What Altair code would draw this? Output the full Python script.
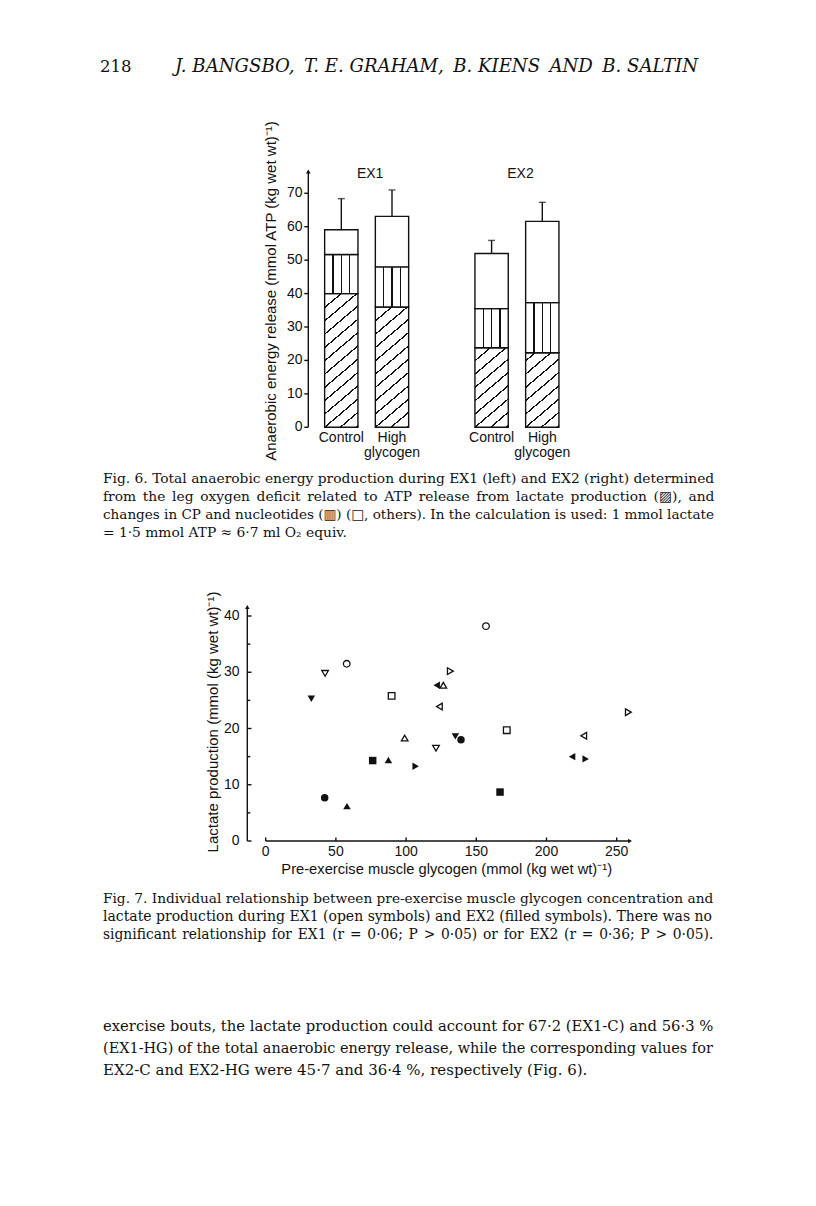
import altair as alt
import pandas as pd

# ---------------- Fig. 6 data (mmol ATP (kg wet wt)^-1) ----------------
exercises = ["EX1", "EX1", "EX2", "EX2"]
conditions = ["Control", "High glycogen", "Control", "High glycogen"]
lactate_atp = [40.0, 36.0, 23.8, 22.3]
cp_nucleotides = [11.7, 12.0, 11.7, 15.0]
others_atp = [7.4, 15.1, 16.5, 24.3]
sd_total = [9.3, 7.9, 3.9, 5.7]
fig6_ticks = [0, 10, 20, 30, 40, 50, 60, 70]

# ---------------- Fig. 7 data ----------------
subjects = ["A", "B", "C", "D", "E", "F"]
subject_shapes = ["circle", "triangle-down", "triangle-right", "triangle-up", "triangle-left", "square"]
ex1_subject = ["A", "A", "B", "B", "C", "C", "D", "D", "E", "E", "F", "F"]
ex1_glycogen = [57.7, 156.9, 42.3, 121.3, 131.5, 258.3, 126.5, 99.0, 123.7, 226.5, 89.7, 171.7]
ex1_lactate = [31.5, 38.2, 29.8, 16.5, 30.2, 22.9, 27.7, 18.3, 23.9, 18.7, 25.8, 19.7]
ex2_subject = ["A", "A", "B", "B", "C", "C", "D", "D", "E", "E", "F", "F"]
ex2_glycogen = [139.1, 42.0, 32.5, 135.1, 106.8, 227.9, 87.4, 57.9, 121.8, 218.2, 76.2, 166.9]
ex2_lactate = [18.0, 7.7, 25.3, 18.6, 13.3, 14.6, 14.4, 6.2, 27.7, 15.0, 14.3, 8.7]
fig7_y_major = [0, 10, 20, 30, 40]
fig7_y_minor = [5, 15, 25, 35]
fig7_x_ticks = [0, 50, 100, 150, 200, 250]

# ---------------- text ----------------
header_page = "218"
header_authors = "J. BANGSBO,\u2009 T. E. GRAHAM,\u2009 B. KIENS\u2009 AND\u2009 B. SALTIN"
fig6_caption = [
    "Fig. 6. Total anaerobic energy production during EX1 (left) and EX2 (right) determined",
    "from the leg oxygen deficit related to ATP release from lactate production (\u25a8\ufe0e), and",
    "changes in CP and nucleotides (\u25a5\ufe0e) (\u25a1, others). In the calculation is used: 1 mmol lactate",
    "= 1\u00b75 mmol ATP \u2248 6\u00b77 ml O\u2082 equiv.",
]
fig7_caption = [
    "Fig. 7. Individual relationship between pre-exercise muscle glycogen concentration and",
    "lactate production during EX1 (open symbols) and EX2 (filled symbols). There was no",
    "significant relationship for EX1 (r = 0\u00b706; P > 0\u00b705) or for EX2 (r = 0\u00b736; P > 0\u00b705).",
]
body_text = [
    "exercise bouts, the lactate production could account for 67\u00b72 (EX1-C) and 56\u00b73 %",
    "(EX1-HG) of the total anaerobic energy release, while the corresponding values for",
    "EX2-C and EX2-HG were 45\u00b77 and 36\u00b74 %, respectively (Fig. 6).",
]
# typesetting of each printed line (size, extra inter-word space) so justified lines fill the block
fig6_caption_sizes = [13.8, 13.8, 13.55, 13.8]
fig6_caption_gaps = ["", "\u2006", "", ""]
fig7_caption_sizes = [13.7, 14.0, 13.84]
fig7_caption_gaps = ["", "", "\u200a"]
body_sizes = [14.8, 14.45, 15.0]
body_gaps = ["", "", ""]

SANS = "Liberation Sans"
SERIF = "DejaVu Serif, DejaVu Sans"
BLACK = "#111111"

# ---------------- Fig. 6 ----------------
df6 = pd.DataFrame({
    "exercise": exercises, "condition": conditions,
    "lac": lactate_atp, "cp": cp_nucleotides, "oth": others_atp, "sd": sd_total,
})
df6["zero"] = 0.0
df6["lac_top"] = df6["lac"]
df6["cp_top"] = df6["lac"] + df6["cp"]
df6["total"] = df6["cp_top"] + df6["oth"]
df6["err"] = df6["total"] + df6["sd"]

PX6 = 3.343
Y6S = alt.Scale(domain=[0, 80], range=[419.3, 419.3 - 80 * PX6], nice=False, zero=False)
X6S = alt.Scale(domain=["EX1", "EX2"], range=[283.5, 584.1], paddingInner=0, paddingOuter=0)
XO6S = alt.Scale(domain=["Control", "High glycogen"], paddingInner=0.343, paddingOuter=0.654)
X6 = alt.X("exercise:N", scale=X6S, axis=None)
XO6 = alt.XOffset("condition:N", scale=XO6S)
BAR_W = 50.7 * (1 - 0.343)


def diag_gradient(value, slope=0.85, gap=13.3, half=0.85):
    h = value * PX6
    w = BAR_W
    U = slope * w + h
    k = U / (slope ** 2 * w ** 2 + h ** 2)
    centers = []
    u = h
    while u > 0:
        centers.append(u)
        u -= gap
    u = h + gap
    while u < U:
        centers.append(u)
        u += gap
    centers.sort()
    stops = [{"offset": 0, "color": "white"}]
    for c in centers:
        a = max(0.0, (c - half) / U)
        b = min(1.0, (c + half) / U)
        stops += [{"offset": a, "color": "white"}, {"offset": a, "color": BLACK},
                  {"offset": b, "color": BLACK}, {"offset": b, "color": "white"}]
    stops.append({"offset": 1, "color": "white"})
    return {"gradient": "linear", "x1": 0, "y1": 0, "x2": slope * w * k, "y2": h * k, "stops": stops}


def vert_gradient(half=0.02):
    stops = [{"offset": 0, "color": "white"}]
    for c in (0.25, 0.5, 0.75):
        stops += [{"offset": c - half, "color": "white"}, {"offset": c - half, "color": BLACK},
                  {"offset": c + half, "color": BLACK}, {"offset": c + half, "color": "white"}]
    stops.append({"offset": 1, "color": "white"})
    return {"gradient": "linear", "x1": 0, "y1": 0, "x2": 1, "y2": 0, "stops": stops}


base6 = alt.Chart(df6)
layers6 = []
for e, c, v in zip(exercises, conditions, lactate_atp):
    layers6.append(
        base6.transform_filter(f"datum.exercise == '{e}' && datum.condition == '{c}'")
        .mark_bar(fill=diag_gradient(v), stroke=BLACK, strokeWidth=1.4)
        .encode(x=X6, xOffset=XO6, y=alt.Y("lac_top:Q", scale=Y6S, axis=None), y2="zero:Q")
    )
layers6.append(
    base6.mark_bar(fill=vert_gradient(), stroke=BLACK, strokeWidth=1.4)
    .encode(x=X6, xOffset=XO6, y=alt.Y("cp_top:Q", scale=Y6S, axis=None), y2="lac_top:Q")
)
layers6.append(
    base6.mark_bar(fill="white", stroke=BLACK, strokeWidth=1.4)
    .encode(x=X6, xOffset=XO6, y=alt.Y("total:Q", scale=Y6S, axis=None), y2="cp_top:Q")
)
layers6.append(
    base6.mark_rule(color=BLACK, strokeWidth=1.4)
    .encode(x=X6, xOffset=XO6, y=alt.Y("total:Q", scale=Y6S, axis=None), y2="err:Q")
)
layers6.append(
    base6.mark_tick(color=BLACK, thickness=1.4, size=7, orient="horizontal")
    .encode(x=X6, xOffset=XO6, y=alt.Y("err:Q", scale=Y6S, axis=None))
)
# y axis (drawn from the y scale)
one = pd.DataFrame({"k": [0]})
ticks6 = pd.DataFrame({"v": fig6_ticks})
layers6.append(
    alt.Chart(one).mark_rule(color=BLACK, strokeWidth=1.4)
    .encode(x=alt.value(300.3), y=alt.YDatum(0, scale=Y6S, axis=None), y2=alt.Y2Datum(76.5))
)
layers6.append(
    alt.Chart(one).mark_point(shape="triangle-up", filled=True, color=BLACK, size=22, opacity=1)
    .encode(x=alt.value(300.3), y=alt.YDatum(76.5, scale=Y6S, axis=None))
)
layers6.append(
    alt.Chart(ticks6).mark_rule(color=BLACK, strokeWidth=1.4)
    .encode(y=alt.Y("v:Q", scale=Y6S, axis=None), x=alt.value(296.3), x2=alt.value(300.3))
)
layers6.append(
    alt.Chart(ticks6).mark_text(align="right", baseline="middle", font=SANS, fontSize=14, color=BLACK)
    .encode(y=alt.Y("v:Q", scale=Y6S, axis=None), x=alt.value(294.5), text="v:Q")
)
layers6.append(
    alt.Chart(one).mark_text(angle=270, align="center", baseline="middle", font=SANS, fontSize=15,
                             color=BLACK, text="Anaerobic energy release (mmol ATP (kg wet wt)\u207b\u00b9)")
    .encode(x=alt.value(262.7), y=alt.value(283))
)
layers6.append(
    base6.mark_text(align="center", baseline="top", lineBreak=" ", lineHeight=15, font=SANS,
                    fontSize=14, color=BLACK)
    .encode(x=alt.X("exercise:N", scale=X6S, axis=None, bandPosition=0.5), xOffset=XO6,
            y=alt.value(423), text="condition:N")
)
layers6.append(
    alt.Chart(pd.DataFrame({"exercise": ["EX1", "EX2"]}))
    .mark_text(align="center", baseline="middle", font=SANS, fontSize=14, color=BLACK, dx=3.5)
    .encode(x=alt.X("exercise:N", scale=X6S, axis=None, bandPosition=0.5), y=alt.value(166),
            text="exercise:N")
)
fig6 = alt.layer(*layers6)

# ---------------- Fig. 7 ----------------
df7 = pd.DataFrame({
    "glycogen": ex1_glycogen + ex2_glycogen,
    "lactate": ex1_lactate + ex2_lactate,
    "subject": ex1_subject + ex2_subject,
    "exercise": ["EX1"] * len(ex1_glycogen) + ["EX2"] * len(ex2_glycogen),
})
X7S = alt.Scale(domain=[0, 260], range=[257.7, 257.7 + 260 * 1.404], nice=False, zero=False)
Y7S = alt.Scale(domain=[0, 42], range=[833, 833 - 42 * 5.625], nice=False, zero=False)
SH = alt.Shape("subject:N", scale=alt.Scale(domain=subjects, range=subject_shapes), legend=None)
X7 = alt.X("glycogen:Q", scale=X7S, axis=None)
Y7 = alt.Y("lactate:Q", scale=Y7S, axis=None)

layers7 = [
    alt.Chart(df7).transform_filter("datum.exercise == 'EX2'")
    .mark_point(filled=True, color=BLACK, size=56, opacity=1)
    .encode(x=X7, y=Y7, shape=SH),
    alt.Chart(df7).transform_filter("datum.exercise == 'EX1'")
    .mark_point(filled=True, fill="white", stroke=BLACK, strokeWidth=1.3, size=44, opacity=1)
    .encode(x=X7, y=Y7, shape=SH),
    # y axis
    alt.Chart(one).mark_rule(color=BLACK, strokeWidth=1.4)
    .encode(x=alt.value(239.3), y=alt.YDatum(0, scale=Y7S, axis=None), y2=alt.Y2Datum(41.6)),
    alt.Chart(one).mark_point(shape="triangle-up", filled=True, color=BLACK, size=20, opacity=1)
    .encode(x=alt.value(239.3), y=alt.YDatum(41.6, scale=Y7S, axis=None)),
    alt.Chart(pd.DataFrame({"v": fig7_y_major})).mark_rule(color=BLACK, strokeWidth=1.4)
    .encode(y=alt.Y("v:Q", scale=Y7S, axis=None), x=alt.value(239.3), x2=alt.value(243.5)),
    alt.Chart(pd.DataFrame({"v": fig7_y_minor})).mark_rule(color=BLACK, strokeWidth=1.4)
    .encode(y=alt.Y("v:Q", scale=Y7S, axis=None), x=alt.value(239.3), x2=alt.value(242.3)),
    alt.Chart(pd.DataFrame({"v": fig7_y_major}))
    .mark_text(align="right", baseline="middle", font=SANS, fontSize=14, color=BLACK)
    .encode(y=alt.Y("v:Q", scale=Y7S, axis=None), x=alt.value(231.5), text="v:Q"),
    alt.Chart(one).mark_text(angle=270, align="center", baseline="middle", font=SANS, fontSize=15,
                             color=BLACK, text="Lactate production (mmol (kg wet wt)\u207b\u00b9)")
    .encode(x=alt.value(205.3), y=alt.value(714)),
    # x axis
    alt.Chart(one).mark_rule(color=BLACK, strokeWidth=1.4)
    .encode(y=alt.value(833), x=alt.XDatum(0, scale=X7S, axis=None), x2=alt.X2Datum(259.5)),
    alt.Chart(one).mark_point(shape="triangle-right", filled=True, color=BLACK, size=20, opacity=1)
    .encode(y=alt.value(833), x=alt.XDatum(259.5, scale=X7S, axis=None)),
    alt.Chart(pd.DataFrame({"v": fig7_x_ticks})).mark_rule(color=BLACK, strokeWidth=1.4)
    .encode(x=alt.X("v:Q", scale=X7S, axis=None), y=alt.value(833), y2=alt.value(829.5)),
    alt.Chart(pd.DataFrame({"v": fig7_x_ticks}))
    .mark_text(align="center", baseline="middle", font=SANS, fontSize=14, color=BLACK)
    .encode(x=alt.X("v:Q", scale=X7S, axis=None), y=alt.value(844), text="v:Q"),
    alt.Chart(one).mark_text(align="center", baseline="middle", font=SANS, fontSize=14.7, color=BLACK,
                             text="Pre-exercise muscle glycogen (mmol (kg wet wt)\u207b\u00b9)")
    .encode(x=alt.value(438.7), y=alt.value(861.5)),
]
fig7 = alt.layer(*layers7)


# ---------------- page text ----------------
def text_lines(lines, sizes, gaps, x, first_baseline, line_h):
    out = []
    for i, (line, size, gap) in enumerate(zip(lines, sizes, gaps)):
        out.append(
            alt.Chart(one).mark_text(align="left", baseline="alphabetic", font=SERIF, fontSize=size,
                                     color=BLACK, text=line.replace(" ", " " + gap))
            .encode(x=alt.value(x), y=alt.value(first_baseline + i * line_h))
        )
    return out


texts = [
    alt.Chart(one).mark_text(align="left", baseline="middle", font=SERIF, fontSize=16.5, color=BLACK,
                             text=header_page).encode(x=alt.value(92), y=alt.value(59)),
    alt.Chart(one).mark_text(align="left", baseline="middle", font=SERIF, fontSize=18.1,
                             fontStyle="italic", color=BLACK, text=header_authors)
    .encode(x=alt.value(167), y=alt.value(59)),
]
texts += text_lines(fig6_caption, fig6_caption_sizes, fig6_caption_gaps, 95, 475, 18)
texts += text_lines(fig7_caption, fig7_caption_sizes, fig7_caption_gaps, 95, 895, 18)
texts += text_lines(body_text, body_sizes, body_gaps, 95, 1023, 22)

chart = (
    alt.layer(fig6, fig7, *texts)
    .resolve_scale(x="independent", y="independent")
    .properties(width=800, height=1190, padding=0, autosize="none", background="white")
    .configure_view(stroke=None)
)

chart.save("out.html", embed_options={"renderer": "svg", "actions": False})
